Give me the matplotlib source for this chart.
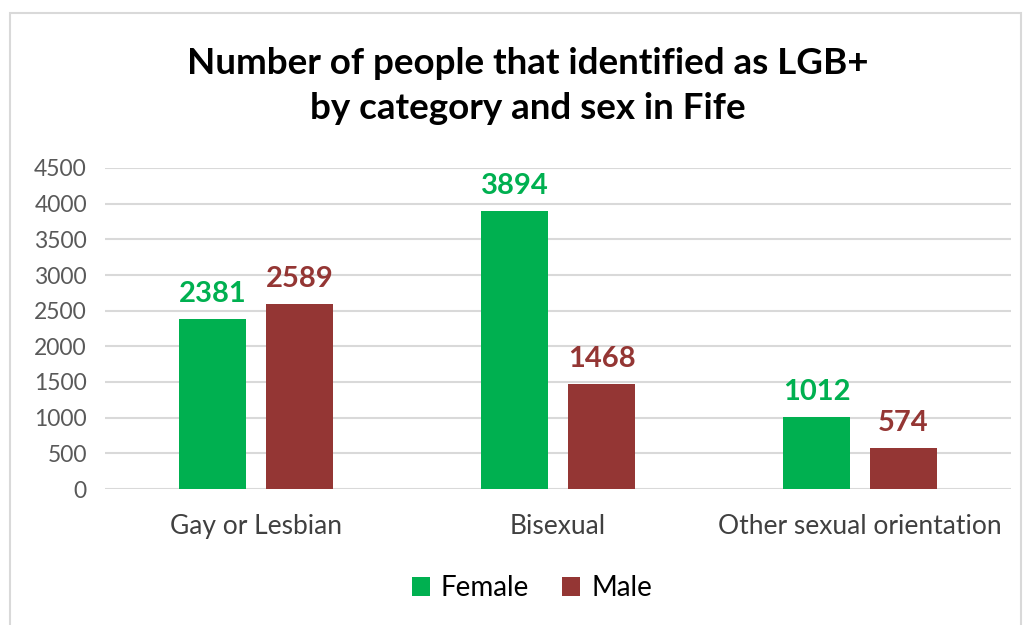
import matplotlib
matplotlib.use("Agg")
import matplotlib.pyplot as plt
from matplotlib.patches import Rectangle
import numpy as np

categories = ["Gay or Lesbian", "Bisexual", "Other sexual orientation"]
female = [2381, 3894, 1012]
male = [2589, 1468, 574]
series_names = ["Female", "Male"]
yticks = [0, 500, 1000, 1500, 2000, 2500, 3000, 3500, 4000, 4500]

green = "#00b050"
red = "#943634"

plt.rcParams['font.family'] = ['Lato', 'DejaVu Sans']

fig = plt.figure(figsize=(10.3, 6.25), dpi=100)
fig.patches.append(Rectangle((10/1030, -0.05), 1011/1030, (625-13)/625 + 0.05,
                             transform=fig.transFigure, fill=False,
                             edgecolor="#d9d9d9", linewidth=1.5))
ax = fig.add_axes([105/1030, 1-489/625, 906/1030, 321/625])

x = np.arange(len(categories))
w = 0.222
off = 0.144
b1 = ax.bar(x - off, female, w, color=green, label=series_names[0], zorder=3)
b2 = ax.bar(x + off, male, w, color=red, label=series_names[1], zorder=3)

for bars, col in ((b1, green), (b2, red)):
    for r in bars:
        ax.text(r.get_x() + r.get_width()/2, r.get_height() + 170, f"{int(r.get_height())}",
                ha="center", va="bottom", color=col, fontsize=21, fontweight="bold")

ax.set_xlim(-0.5, 2.5)
ax.set_ylim(0, 4500)
ax.set_yticks(yticks)
ax.set_yticklabels([str(t) for t in yticks], color="#595959", fontsize=16.5)
ax.set_xticks(x)
ax.set_xticklabels(categories, color="#404040", fontsize=19)
ax.tick_params(axis="y", length=0, pad=13)
ax.tick_params(axis="x", length=0, pad=18)
ax.grid(axis="y", color="#d9d9d9", linewidth=1.5, zorder=0)
for s in ax.spines.values():
    s.set_visible(False)

fig.text(528/1030, 1-86/625, "Number of people that identified as LGB+\nby category and sex in Fife",
         ha="center", va="center", fontsize=26.5, fontweight="bold", color="black", linespacing=1.45)

fig.legend(handles=[b1, b2], labels=series_names, loc="center", bbox_to_anchor=(532/1030, 1-588/625),
           ncol=2, frameon=False, fontsize=20, handlelength=0.65, handleheight=0.65,
           handletextpad=0.4, columnspacing=1.2)

fig.savefig("out.png", dpi=100)
